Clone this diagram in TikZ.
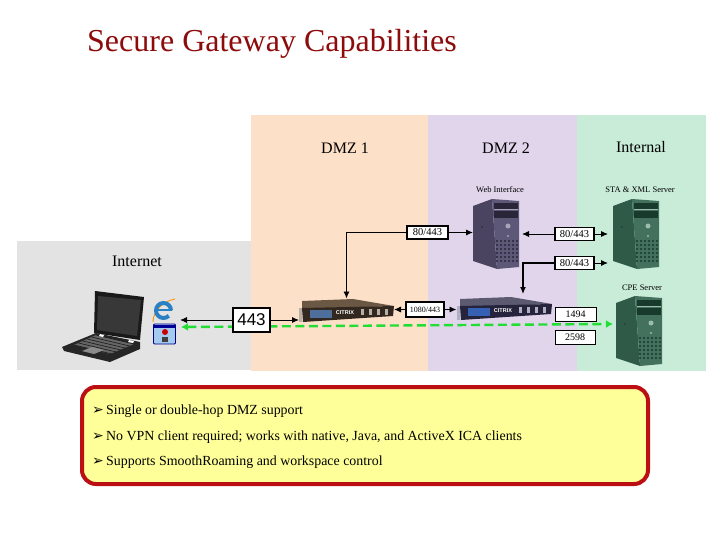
\documentclass[tikz,border=0pt]{standalone}
\usepackage{fontspec}
\setmainfont{Liberation Serif}
\newfontfamily\lsans{Liberation Sans}
\newfontfamily\djv{DejaVu Sans}
\usetikzlibrary{arrows.meta}
\definecolor{zgrey}{HTML}{E3E3E3}
\definecolor{zorange}{HTML}{FDE0C8}
\definecolor{zpurple}{HTML}{E1D5EB}
\definecolor{zgreen}{HTML}{C8ECD8}
\definecolor{titlered}{HTML}{8E0B0B}
\definecolor{boxred}{HTML}{BC0F14}
\definecolor{boxyellow}{HTML}{FFFF99}
\definecolor{linkgreen}{HTML}{22DD33}
\definecolor{pside}{HTML}{4A4460}
\definecolor{pfront}{HTML}{5E5878}
\definecolor{pdark}{HTML}{2A2538}
\definecolor{plite}{HTML}{A8A4B8}
\definecolor{gside}{HTML}{2F5A48}
\definecolor{gfront}{HTML}{44705E}
\definecolor{gdark}{HTML}{173A2C}
\definecolor{glite}{HTML}{9CBDAE}
\definecolor{brtop}{HTML}{6A5844}
\definecolor{brfront}{HTML}{33281F}
\definecolor{brdisp}{HTML}{4E6E9C}
\definecolor{brbtn}{HTML}{B8B0A4}
\definecolor{nvtop}{HTML}{5C5A70}
\definecolor{nvfront}{HTML}{26233C}
\definecolor{nvdisp}{HTML}{3560B4}
\definecolor{nvbtn}{HTML}{B0B0C4}
\definecolor{iceblue}{HTML}{2A80C4}
\definecolor{appblue}{HTML}{A4CAF0}
\tikzset{
  zonetxt/.style={font=\fontsize{16}{18}\selectfont,inner sep=0pt},
  srvtxt/.style={font=\fontsize{8.5}{10}\selectfont,inner sep=0pt},
  port/.style={draw=black,line width=1.4pt,fill=white,inner sep=0pt,minimum height=13.5pt,font=\fontsize{10.5}{12}\selectfont},
  dev/.style={inner sep=0pt,outer sep=0pt,minimum width=#1},
  conn/.style={line width=0.9pt,-{Latex[length=7pt,width=6pt]}},
  bullet/.style={anchor=west,inner sep=0pt,font=\fontsize{13.9}{16}\selectfont},
  pics/tower/.style args={#1/#2/#3/#4}{code={
    \fill[#1] (0,7) -- (19,0) -- (24,70) -- (0,62) -- cycle;
    \fill[#2] (19,0) -- (46,2) -- (46,68) -- (24,70) -- cycle;
    \fill[#3] (21,4) rectangle (45,10);
    \draw[#4,line width=0.6pt] (21,10.5) -- (45,10.5);
    \fill[#3] (21,12) rectangle (45,19);
    \fill[#4] (35,27) circle (2.5);
    \fill[#4] (35,37) circle (1.2);
    \fill[#3] (9,28) circle (0.8);
    \foreach \gx in {24,28,32,36,40,44} \foreach \gy in {42,46,50,54,58,62}
      \fill[#3] (\gx,\gy) circle (1.1);
  }},
  pics/gateway/.style args={#1/#2/#3/#4}{code={
    \fill[#2] (3,3) -- (54,1) -- (95,8) -- (3,11) -- cycle;
    \fill[#1] (3,10) -- (95,8) -- (94,18) -- (4,24) -- cycle;
    \fill[#4] (0,10) rectangle (3,24);
    \fill[#3] (11,12) rectangle (33,20);
    \node[inner sep=0pt,text=white,font=\lsans\bfseries\fontsize{5.5}{6}\selectfont] at (46,15) {CITRIX};
    \foreach \bx in {62,70,78,86}
      \fill[#4] (\bx,11) rectangle ++(2.5,6);
  }}
}
\begin{document}
\begin{tikzpicture}[x=1pt,y=-1pt]
\useasboundingbox (0,0) rectangle (720,540);
\fill[white] (0,0) rectangle (720,540);
% zones
\fill[zgrey] (17,241) rectangle (251,370);
\fill[zorange] (251,115) rectangle (428,371);
\fill[zpurple] (428,115) rectangle (577,371);
\fill[zgreen] (577,115) rectangle (706,371);
\node[anchor=west,inner sep=0pt,text=titlered,font=\fontsize{32}{36}\selectfont] (title) at (87,43.5) {Secure Gateway Capabilities};
\node[zonetxt] (dmz1) at (345,148) {DMZ 1};
\node[zonetxt] (dmz2) at (506,148) {DMZ 2};
\node[zonetxt] (intl) at (641,147) {Internal};
\node[zonetxt] (inet) at (137,261) {Internet};
\node[srvtxt] (webt) at (500,190) {Web Interface};
\node[srvtxt] (stat) at (640,190) {STA \& XML Server};
\node[srvtxt] (cpet) at (642,288) {CPE Server};
% devices
\node[dev=46,minimum height=70] (web) at (496,234) {};
\node[dev=46,minimum height=70] (sta) at (636,234) {};
\node[dev=46,minimum height=71] (cpe) at (639,331.5) {};
\pic at (473,199) {tower={pside/pfront/pdark/plite}};
\pic at (613,199) {tower={gside/gfront/gdark/glite}};
\pic at (616,296) {tower={gside/gfront/gdark/glite}};
\node[dev=95,minimum height=24] (gwa) at (346.5,310.5) {};
\node[dev=95,minimum height=24] (gwb) at (504,308.5) {};
\pic at (299,298) {gateway={brfront/brtop/brdisp/brbtn}};
\pic at (457,296) {gateway={nvfront/nvtop/nvdisp/nvbtn}};
% laptop
\fill[black!85] (96,333) -- (62,347) -- (64,351) -- (110,362) -- (140,349) -- (140,342) -- cycle;
\fill[black!60] (96,335) -- (74,345) -- (110,354) -- (134,344) -- cycle;
\foreach \kk in {0,0.2,0.4,0.6,0.8,1}
  \draw[black!90,line width=0.6pt] (96-\kk*22,335+\kk*10) -- (134-\kk*22,344+\kk*10);
\fill[black!45] (82,351) -- (92,347) -- (104,350) -- (94,354) -- cycle;
\fill[black!90] (95,291) -- (144,297) -- (140,340) -- (94,333) -- cycle;
\fill[black!78] (98,296) -- (141,300) -- (137,336) -- (97,330) -- cycle;
\fill[white] (100,334) -- (104,335) -- (103,337) -- (99,336) -- cycle;
\fill[white] (129,340) -- (134,341) -- (133,343) -- (128,342) -- cycle;
% browser and client icons
\coordinate (ie) at (163.5,310.5);
\draw[orange!85!yellow,line width=0.9pt] (153,322) .. controls (153,310) and (164,301) .. (175,299);
\draw[iceblue,line width=4pt] (ie) ++(7.5,0) arc[start angle=0,end angle=-315,radius=7.5];
\draw[iceblue,line width=2.4pt] (ie) ++(-8,-0.5) -- ++(16,0);
\node[draw=blue!50!black,fill=appblue,rounded corners=1pt,line width=0.8pt,inner sep=0pt,minimum width=22pt,minimum height=20pt] (app) at (164.5,334) {};
\fill[blue!60!black] (154,325) rectangle (175,328);
\fill[red!80!black] (165,332) circle (3);
\fill[black!75] (162,337) rectangle (168,342);
% green link
\coordinate (gl) at (181,327);
\coordinate (gr) at (613,324);
\draw[linkgreen,line width=2.4pt,dash pattern=on 9pt off 4.5pt,{Latex[length=7pt,width=8pt]}-{Latex[length=7pt,width=8pt]}] (gl) -- (gr);
% port labels
\node[port,minimum width=41,minimum height=13pt] (p1) at (427.5,232.5) {80/443};
\node[port,minimum width=39] (p2) at (574.5,234) {80/443};
\node[port,minimum width=39] (p3) at (574.5,263) {80/443};
\node[port,minimum width=38,minimum height=15,font=\fontsize{8}{10}\selectfont] (p4) at (425,309.5) {1080/443};
\node[port,minimum width=41,minimum height=14,line width=1pt,font=\fontsize{10}{12}\selectfont] (p5) at (575.5,314) {1494};
\node[port,minimum width=40,minimum height=14,line width=1pt,font=\fontsize{10}{12}\selectfont] (p6) at (575,337) {2598};
\node[port,minimum width=37,minimum height=24,font=\lsans\fontsize{17}{20}\selectfont] (p7) at (251.5,320) {443};
% connectors
\coordinate (laptopend) at (180,315);
\coordinate (gwbtop) at (523,294);
\draw[conn] (p1.west) -| (gwa.north);
\draw[conn] (p1.east) -- (p1.east -| web.west);
\draw[conn] (p2.west) -- ([xshift=3pt]p2.west -| web.east);
\draw[conn] (p2.east) -- ([xshift=-5pt]p2.east -| sta.west);
\draw[conn] (p3.east) -- ([xshift=-5pt]p3.east -| sta.west);
\draw[conn,line width=1.2pt] (p3.west) -| (gwbtop);
\draw[conn] (p4.west) -- (p4.west -| gwa.east);
\draw[conn] (p4.east) -- (p4.east -| gwb.west);
\draw[conn] (p7.west) -- (p7.west -| laptopend);
\draw[conn] (p7.east) -- (p7.east -| gwa.west);
% note box
\draw[boxred,line width=4pt,fill=boxyellow,rounded corners=14pt] (82,387) rectangle (648,484);
\node[bullet] (n1) at (92,411.5) {\makebox[14pt][l]{\djv\fontsize{14}{16}\selectfont\char"27A2}Single or double-hop DMZ support};
\node[bullet] (n2) at (92,437) {\makebox[14pt][l]{\djv\fontsize{14}{16}\selectfont\char"27A2}No VPN client required; works with native, Java, and ActiveX ICA clients};
\node[bullet] (n3) at (92,462) {\makebox[14pt][l]{\djv\fontsize{14}{16}\selectfont\char"27A2}Supports SmoothRoaming and workspace control};
\end{tikzpicture}
\end{document}
